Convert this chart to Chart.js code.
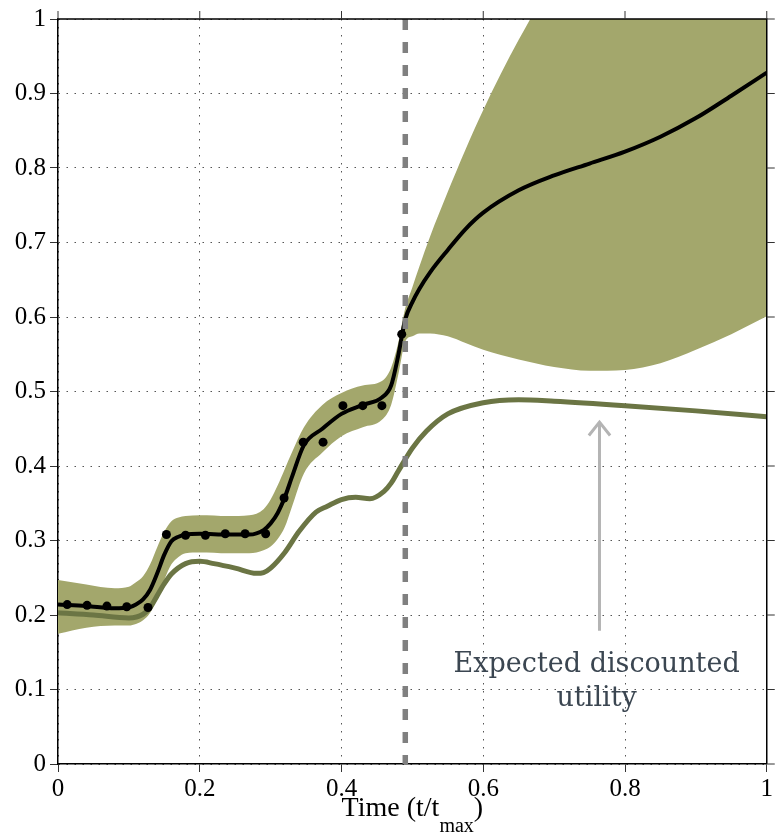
<!DOCTYPE html>
<html>
<head>
<meta charset="utf-8">
<script src="https://cdn.jsdelivr.net/npm/chart.js@4.4.1/dist/chart.umd.min.js"></script>
<style>
html,body{margin:0;padding:0;background:#fff;}
#wrap{width:775px;height:835px;}
</style>
</head>
<body>
<div id="wrap"><canvas id="c" width="775" height="835"></canvas></div>
<script>
// ---- data ----
const xs     = [0, 0.04, 0.08, 0.1, 0.11, 0.12, 0.13, 0.14, 0.15, 0.16, 0.17, 0.18, 0.2, 0.24, 0.27, 0.29, 0.3, 0.31, 0.32, 0.33, 0.347, 0.373, 0.4, 0.43, 0.457, 0.47, 0.48, 0.49, 0.5, 0.51, 0.525, 0.55, 0.575, 0.6, 0.65, 0.7, 0.75, 0.8, 0.85, 0.9, 0.95, 1.0];
const meanY  = [0.214, 0.212, 0.209, 0.210, 0.214, 0.221, 0.234, 0.256, 0.281, 0.299, 0.305, 0.308, 0.309, 0.308, 0.308, 0.314, 0.323, 0.337, 0.358, 0.385, 0.428, 0.450, 0.470, 0.482, 0.492, 0.508, 0.548, 0.597, 0.620, 0.638, 0.660, 0.690, 0.718, 0.740, 0.770, 0.790, 0.806, 0.822, 0.842, 0.867, 0.897, 0.928];
const upperY = [0.247, 0.241, 0.236, 0.238, 0.244, 0.252, 0.268, 0.291, 0.312, 0.326, 0.331, 0.333, 0.334, 0.333, 0.334, 0.342, 0.355, 0.374, 0.396, 0.418, 0.452, 0.482, 0.498, 0.508, 0.514, 0.532, 0.565, 0.612, 0.640, 0.668, 0.708, 0.768, 0.825, 0.878, 0.972, 1.050, 1.090, 1.120, 1.150, 1.180, 1.220, 1.260];
const lowerY = [0.175, 0.183, 0.186, 0.186, 0.188, 0.193, 0.203, 0.222, 0.247, 0.268, 0.278, 0.283, 0.284, 0.283, 0.283, 0.287, 0.292, 0.302, 0.318, 0.345, 0.390, 0.418, 0.440, 0.452, 0.462, 0.482, 0.522, 0.567, 0.574, 0.578, 0.578, 0.574, 0.565, 0.556, 0.543, 0.533, 0.528, 0.529, 0.538, 0.556, 0.577, 0.601];
const utilX  = [0, 0.05, 0.1, 0.12, 0.13, 0.14, 0.15, 0.16, 0.18, 0.2, 0.22, 0.25, 0.28, 0.29, 0.3, 0.32, 0.34, 0.364, 0.38, 0.4, 0.42, 0.44, 0.46, 0.47, 0.48, 0.5, 0.52, 0.55, 0.6, 0.65, 0.7, 0.8, 0.9, 1.0];
const utilY  = [0.203, 0.200, 0.196, 0.201, 0.210, 0.226, 0.242, 0.255, 0.269, 0.272, 0.269, 0.263, 0.256, 0.257, 0.263, 0.284, 0.312, 0.338, 0.346, 0.355, 0.358, 0.356, 0.366, 0.377, 0.393, 0.424, 0.447, 0.470, 0.485, 0.489, 0.487, 0.481, 0.474, 0.466];
const obsX   = [0.013, 0.041, 0.069, 0.097, 0.127, 0.153, 0.180, 0.208, 0.236, 0.264, 0.293, 0.319, 0.346, 0.374, 0.402, 0.430, 0.457, 0.485];
const obsY   = [0.214, 0.213, 0.212, 0.211, 0.210, 0.308, 0.307, 0.307, 0.309, 0.309, 0.309, 0.357, 0.432, 0.432, 0.481, 0.481, 0.481, 0.577];
const decisionX = 0.49;
const arrowX = [0.764, 0.764];
const arrowY = [0.179, 0.457];
const arrowHeadX = [0.749, 0.764, 0.779];
const arrowHeadY = [0.441, 0.459, 0.441];
const xTickLabels = ['0', '0.2', '0.4', '0.6', '0.8', '1'];
const yTickLabels = ['0', '0.1', '0.2', '0.3', '0.4', '0.5', '0.6', '0.7', '0.8', '0.9', '1'];
const annotationLines = ['Expected discounted', 'utility'];
const annotationX = 0.76;
const xTitle = ['Time (t/t', 'max', ')'];

// ---- styles ----
const BAND = '#a3a76c';
const UTIL = '#6b7544';
const SERIF = '"Liberation Serif", "Times New Roman", serif';

const pts = (X, Y) => X.map((x, i) => ({x: x, y: Y[i]}));

const extras = {
  id: 'extras',
  afterDatasetsDraw(chart) {
    const {ctx, chartArea: a, scales: {x, y}} = chart;
    ctx.save();
    ctx.strokeStyle = '#000';
    ctx.lineWidth = 1.5;
    ctx.beginPath();
    ctx.moveTo(a.left, a.top); ctx.lineTo(a.right, a.top); ctx.lineTo(a.right, a.bottom);
    ctx.stroke();
    ctx.strokeStyle = '#333';
    ctx.lineWidth = 1;
    ctx.beginPath();
    x.ticks.forEach(t => { const px = x.getPixelForValue(t.value); ctx.moveTo(px, a.top); ctx.lineTo(px, a.top - 8); });
    y.ticks.forEach(t => { const py = y.getPixelForValue(t.value); ctx.moveTo(a.right, py); ctx.lineTo(a.right + 8, py); });
    ctx.stroke();
    ctx.fillStyle = '#3b4651';
    ctx.font = '27px "DejaVu Serif", Georgia, serif';
    ctx.textAlign = 'center';
    ctx.textBaseline = 'alphabetic';
    const ax = x.getPixelForValue(annotationX);
    ctx.fillText(annotationLines[0], ax, 672);
    ctx.fillText(annotationLines[1], ax, 706);
    ctx.fillStyle = '#000';
    ctx.textAlign = 'left';
    const f1 = '28px ' + SERIF, f2 = '20px ' + SERIF;
    ctx.font = f1; const w1 = ctx.measureText(xTitle[0]).width; const w3 = ctx.measureText(xTitle[2]).width;
    ctx.font = f2; const w2 = ctx.measureText(xTitle[1]).width;
    const cx = (a.left + a.right) / 2;
    const sx = cx - (w1 + w2 + w3) / 2;
    ctx.font = f1; ctx.fillText(xTitle[0], sx, 816);
    ctx.font = f2; ctx.fillText(xTitle[1], sx + w1, 832);
    ctx.font = f1; ctx.fillText(xTitle[2], sx + w1 + w2, 816);
    ctx.restore();
  }
};

function build() {
  new Chart(document.getElementById('c'), {
    type: 'line',
    data: {
      datasets: [
        { label: 'upper', data: pts(xs, upperY), borderWidth: 0, pointRadius: 0, backgroundColor: BAND, fill: '+1', cubicInterpolationMode: 'monotone', order: 10 },
        { label: 'lower', data: pts(xs, lowerY), borderWidth: 0, pointRadius: 0, backgroundColor: BAND, fill: false, cubicInterpolationMode: 'monotone', order: 9 },
        { label: 'utility', data: pts(utilX, utilY), borderColor: UTIL, borderWidth: 5, pointRadius: 0, fill: false, cubicInterpolationMode: 'monotone', order: 8 },
        { label: 'mean', data: pts(xs, meanY), borderColor: '#000', borderWidth: 4, pointRadius: 0, fill: false, cubicInterpolationMode: 'monotone', order: 5 },
        { label: 'obs', data: pts(obsX, obsY), showLine: false, pointRadius: 4.5, pointBackgroundColor: '#000', pointBorderWidth: 0, order: 4 },
        { label: 'decision', data: [{x: decisionX, y: 1}, {x: decisionX, y: 0}], borderColor: '#808080', borderWidth: 5.5, borderDash: [11, 12], pointRadius: 0, fill: false, order: 3 },
        { label: 'arrow', data: pts(arrowX, arrowY), borderColor: '#b4b4b4', borderWidth: 3, pointRadius: 0, fill: false, order: 2 },
        { label: 'arrowhead', data: pts(arrowHeadX, arrowHeadY), borderColor: '#b4b4b4', borderWidth: 3, pointRadius: 0, fill: false, tension: 0, order: 1 }
      ]
    },
    options: {
      responsive: false,
      animation: false,
      layout: { padding: { top: 17, right: 6, left: 0, bottom: 0 } },
      plugins: { legend: { display: false }, tooltip: { enabled: false } },
      scales: {
        x: {
          type: 'linear', min: 0, max: 1,
          afterFit: s => { s.height = 71; },
          ticks: { stepSize: 0.2, color: '#000', font: { family: SERIF, size: 25 }, padding: 2, maxRotation: 0,
                   callback: (v) => xTickLabels[Math.round(v * 5)] },
          grid: { color: '#555', lineWidth: 1, tickLength: 8, tickColor: '#333', tickWidth: 1 },
          border: { display: true, color: '#000', width: 1.5, dash: [1.5, 6.5] }
        },
        y: {
          type: 'linear', min: 0, max: 1,
          afterFit: s => { s.width = 58; },
          ticks: { stepSize: 0.1, color: '#000', font: { family: SERIF, size: 25 }, padding: 4,
                   callback: (v) => yTickLabels[Math.round(v * 10)] },
          grid: { color: '#555', lineWidth: 1, tickLength: 8, tickColor: '#333', tickWidth: 1 },
          border: { display: true, color: '#000', width: 1.5, dash: [1.5, 6.5] }
        }
      }
    },
    plugins: [extras]
  });
}

Promise.all([
  document.fonts.load('25px "Liberation Serif"'),
  document.fonts.load('27px "DejaVu Serif"')
]).then(build, build);
</script>
</body>
</html>
